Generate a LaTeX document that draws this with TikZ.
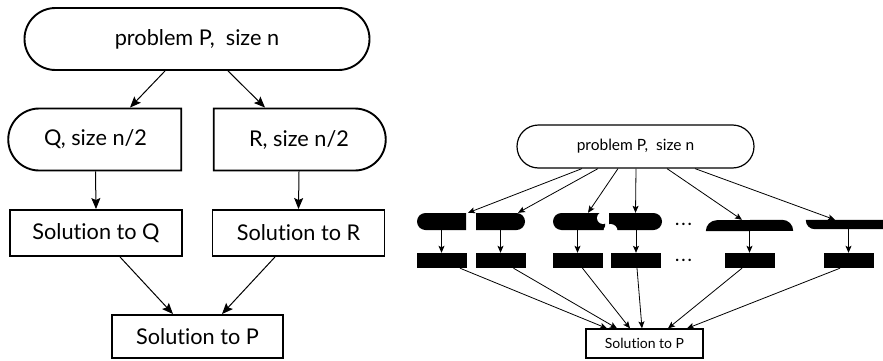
\documentclass[tikz,border=0pt]{standalone}
\usepackage{fontspec}
\setmainfont{Lato}[Ligatures=NoCommon]
\usetikzlibrary{shapes.misc,arrows.meta}
\begin{document}
\begin{tikzpicture}[x=1pt,y=1pt,
  lbl/.style={font=\fontsize{21.7}{26}\selectfont},
  bterm/.style={rounded rectangle, draw, line width=1.9pt, inner sep=0pt, minimum height=62pt},
  bbox/.style={rectangle, draw, line width=1.9pt, inner sep=0pt, minimum width=172pt, minimum height=46pt},
  barr/.style={line width=1pt, -{Stealth[length=11pt,width=9pt,inset=2pt]}},
  sarr/.style={line width=0.8pt, -{Stealth[length=7pt,width=6pt,inset=1.5pt]}},
  blk/.style={fill=black, inner sep=0pt, minimum height=17pt, minimum width=49pt},
  bbx/.style={fill=black, inner sep=0pt, minimum height=15pt, minimum width=50pt},
  hole/.style={inner sep=0pt},
  dotlbl/.style={font=\fontsize{16}{18}\selectfont\bfseries, inner sep=0pt},
]
\useasboundingbox (0,0) rectangle (883,360);

% ---------- left diagram ----------
\node[bterm, minimum width=345pt, lbl] (P) at (197,321) {problem P,\ \ size n};
\node[bterm, rounded rectangle east arc=none, minimum width=173pt, lbl] (Q) at (95.5,220.5) {Q, size n/2};
\node[bterm, rounded rectangle west arc=none, minimum width=172pt, lbl] (R) at (299,220.5) {R, size n/2};
\node[bbox, lbl] (SQ) at (96,127) {Solution to Q};
\node[bbox, lbl] (SR) at (298.5,127) {Solution to R};
\node[bbox, lbl, minimum width=171pt, minimum height=43pt] (SP) at (197.5,23.5) {Solution to P};

\draw[barr] ([xshift=-32pt]P.south) -- ([xshift=34.5pt]Q.north);
\draw[barr] ([xshift=31pt]P.south) -- ([xshift=-34pt]R.north);
\draw[barr] (Q.south) -- (SQ.north);
\draw[barr] (R.south) -- (SR.north);
\draw[barr] ([xshift=24pt]SQ.south) -- ([xshift=-24.5pt]SP.north);
\draw[barr] ([xshift=-23.5pt]SR.south) -- ([xshift=24.5pt]SP.north);

% ---------- right diagram ----------
\node[rounded rectangle, draw, line width=1.2pt, inner sep=0pt, minimum width=237pt, minimum height=43pt,
      font=\fontsize{15.5}{18}\selectfont] (P2) at (635.5,213.5) {problem P,\ \ size n};

\node[blk, rounded rectangle, rounded rectangle east arc=none] (s1) at (441.5,138.5) {};
\node[blk, rounded rectangle, rounded rectangle west arc=none] (s2) at (500.5,138.5) {};
\node[blk, rounded rectangle, rounded rectangle east arc=none, minimum width=52pt] (s3) at (579,138.5) {};
\node[blk, rounded rectangle, rounded rectangle west arc=none, minimum width=53pt] (s4) at (635.5,138.5) {};
\fill[white] (603,142) circle[radius=6pt];
\fill[white] (610.5,129) circle[radius=7pt];

\node[hole, minimum width=87pt, minimum height=11pt] (s5) at (749.5,134.5) {};
\fill (s5.south west) arc[start angle=180,end angle=90,radius=11pt]
      -- ([xshift=-11pt]s5.north east) arc[start angle=90,end angle=0,radius=11pt] -- cycle;
\node[hole, minimum width=77pt, minimum height=9pt] (s6) at (844.5,135.5) {};
\fill (s6.north west) -- (s6.north east) -- (s6.south east)
      -- ([xshift=9pt]s6.south west) arc[start angle=270,end angle=180,radius=9pt] -- cycle;

\node[dotlbl] (d1) at (683.5,136) {.\hspace{2.5pt}.\hspace{2.5pt}.};

\node[bbx] (b1) at (441.5,99.5) {};
\node[bbx] (b2) at (500.5,99.5) {};
\node[bbx] (b3) at (577.5,99.5) {};
\node[bbx] (b4) at (636,99.5) {};
\node[bbx] (b5) at (749.5,99.5) {};
\node[bbx] (b6) at (848.5,99.5) {};
\node[dotlbl] (d2) at (683.5,100) {.\hspace{2.5pt}.\hspace{2.5pt}.};

\node[draw, line width=1.2pt, inner sep=0pt, minimum width=117pt, minimum height=29pt,
      font=\fontsize{14}{17}\selectfont] (SP2) at (644.5,16.5) {Solution to P};

\draw[sarr] ([xshift=-53.5pt]P2.south) -- ([xshift=26.5pt]s1.north);
\draw[sarr] ([xshift=-37.5pt]P2.south) -- ([xshift=17.5pt]s2.north);
\draw[sarr] ([xshift=-17.5pt]P2.south) -- ([xshift=9pt]s3.north);
\draw[sarr] ([xshift=0.5pt]P2.south) -- (s4.north);
\draw[sarr] ([xshift=31.5pt]P2.south) -- ([xshift=-7.5pt]s5.north);
\draw[sarr] ([xshift=59.5pt]P2.south) -- ([xshift=-9.5pt]s6.north);

\draw[sarr] (s1.south) -- (b1.north);
\draw[sarr] (s2.south) -- (b2.north);
\draw[sarr] (b3.north |- s3.south) -- (b3.north);
\draw[sarr] (b4.north |- s4.south) -- (b4.north);
\draw[sarr] (s5.south) -- (b5.north);
\draw[sarr] (b6.north |- s6.south) -- (b6.north);

\draw[sarr] ([xshift=18.5pt]b1.south) -- ([xshift=-37.5pt]SP2.north);
\draw[sarr] ([xshift=13pt]b2.south) -- ([xshift=-27.5pt]SP2.north);
\draw[sarr] ([xshift=5pt]b3.south) -- ([xshift=-14.5pt]SP2.north);
\draw[sarr] ([xshift=1pt]b4.south) -- ([xshift=-2.5pt]SP2.north);
\draw[sarr] ([xshift=-7.5pt]b5.south) -- ([xshift=23.5pt]SP2.north);
\draw[sarr] ([xshift=-8.5pt]b6.south) -- ([xshift=42.5pt]SP2.north);
\end{tikzpicture}
\end{document}
